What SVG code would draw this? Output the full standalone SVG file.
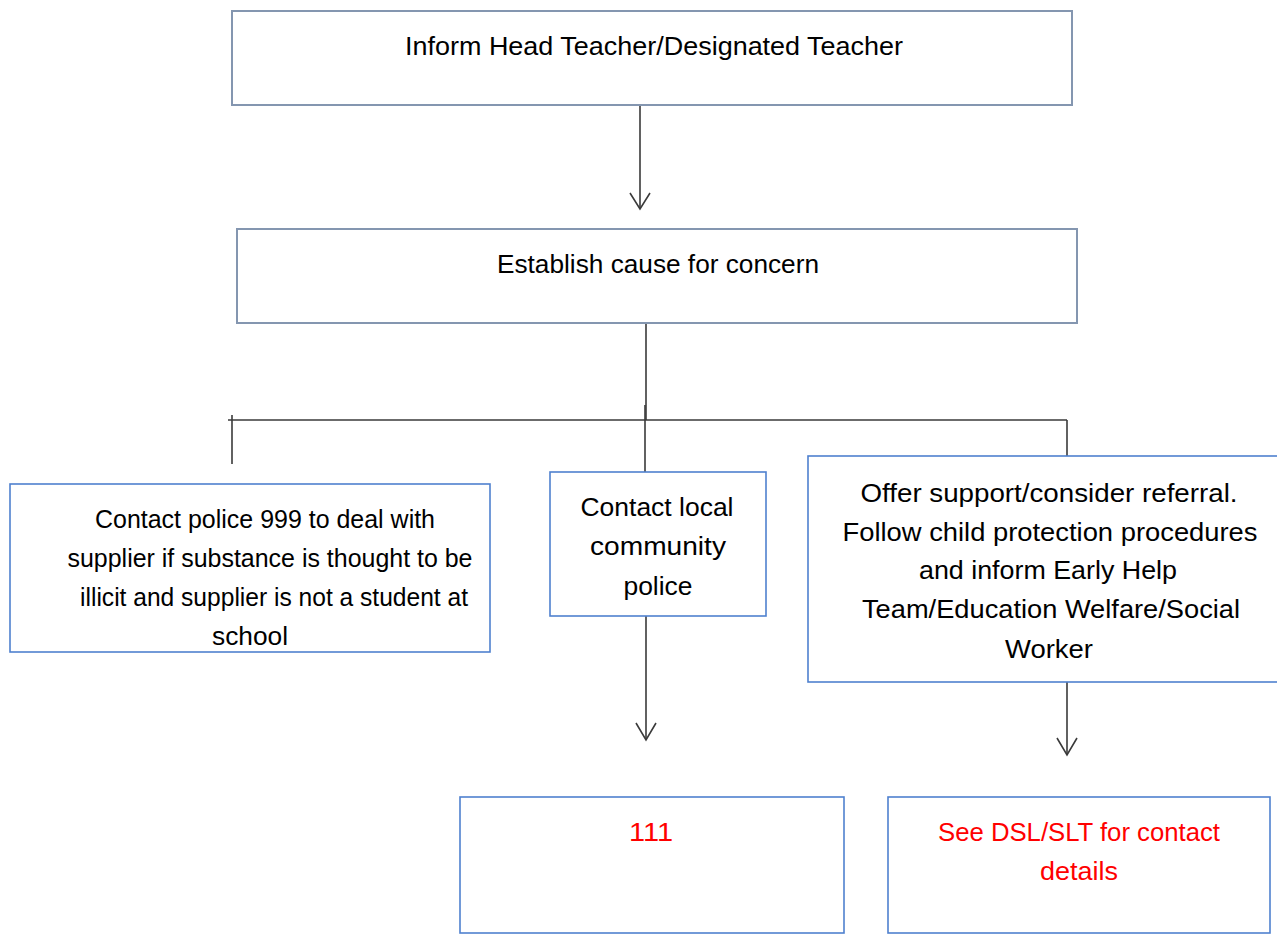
<svg xmlns="http://www.w3.org/2000/svg" width="1277" height="935" viewBox="0 0 1277 935">
<style>
.bg{fill:#ffffff}
.boxA{fill:#ffffff;stroke:#8496b0;stroke-width:2}
.boxB{fill:#ffffff;stroke:#4f81cf;stroke-width:1.6}
.t{font-family:"Liberation Sans",Arial,sans-serif;font-size:25px;fill:#000000;text-anchor:middle}
.r{fill:#ff0000}
.ln{stroke:#3a3a3a;stroke-width:1.6;fill:none}
</style>
<rect class="bg" x="0" y="0" width="1277" height="935"/>
<g id="connectors">
<line class="ln" x1="640" y1="105" x2="640" y2="209"/>
<polyline class="ln" points="630,193 640,209 650,193"/>
<line class="ln" x1="646" y1="323" x2="646" y2="420"/>
<line class="ln" x1="228" y1="420" x2="1067" y2="420"/>
<line class="ln" x1="232" y1="415" x2="232" y2="464"/>
<line class="ln" x1="645" y1="405" x2="645" y2="472"/>
<line class="ln" x1="1067" y1="420" x2="1067" y2="456"/>
<line class="ln" x1="646" y1="616" x2="646" y2="740"/>
<polyline class="ln" points="636,723 646,740 656,723"/>
<line class="ln" x1="1067" y1="682" x2="1067" y2="755"/>
<polyline class="ln" points="1057,738 1067,755 1077,738"/>
</g>
<g id="n1">
<rect class="boxA" x="232" y="11" width="840" height="94"/>
<text class="t" x="654" y="55" textLength="498" lengthAdjust="spacingAndGlyphs">Inform Head Teacher/Designated Teacher</text>
</g>
<g id="n2">
<rect class="boxA" x="237" y="229" width="840" height="94"/>
<text class="t" x="658" y="273" textLength="322" lengthAdjust="spacingAndGlyphs">Establish cause for concern</text>
</g>
<g id="n3">
<rect class="boxB" x="10" y="484" width="480" height="168"/>
<text class="t" x="265" y="528" textLength="340" lengthAdjust="spacingAndGlyphs">Contact police 999 to deal with</text>
<text class="t" x="270" y="567" textLength="405" lengthAdjust="spacingAndGlyphs">supplier if substance is thought to be</text>
<text class="t" x="274" y="606" textLength="388" lengthAdjust="spacingAndGlyphs">illicit and supplier is not a student at</text>
<text class="t" x="250" y="645" textLength="76" lengthAdjust="spacingAndGlyphs">school</text>
</g>
<g id="n4">
<rect class="boxB" x="550" y="472" width="216" height="144"/>
<text class="t" x="657" y="516" textLength="153" lengthAdjust="spacingAndGlyphs">Contact local</text>
<text class="t" x="658" y="555" textLength="136" lengthAdjust="spacingAndGlyphs">community</text>
<text class="t" x="658" y="595" textLength="69" lengthAdjust="spacingAndGlyphs">police</text>
</g>
<g id="n5">
<rect class="boxB" x="808" y="456" width="480" height="226"/>
<text class="t" x="1049" y="502" textLength="377" lengthAdjust="spacingAndGlyphs">Offer support/consider referral.</text>
<text class="t" x="1050" y="541" textLength="415" lengthAdjust="spacingAndGlyphs">Follow child protection procedures</text>
<text class="t" x="1048" y="579" textLength="258" lengthAdjust="spacingAndGlyphs">and inform Early Help</text>
<text class="t" x="1051" y="618" textLength="378" lengthAdjust="spacingAndGlyphs">Team/Education Welfare/Social</text>
<text class="t" x="1049" y="658" textLength="88" lengthAdjust="spacingAndGlyphs">Worker</text>
</g>
<g id="n6">
<rect class="boxB" x="460" y="797" width="384" height="136"/>
<text class="t r" x="651" y="841" textLength="44" lengthAdjust="spacingAndGlyphs">111</text>
</g>
<g id="n7">
<rect class="boxB" x="888" y="797" width="382" height="136"/>
<text class="t r" x="1079" y="841" textLength="282" lengthAdjust="spacingAndGlyphs">See DSL/SLT for contact</text>
<text class="t r" x="1079" y="880" textLength="78" lengthAdjust="spacingAndGlyphs">details</text>
</g>
</svg>
